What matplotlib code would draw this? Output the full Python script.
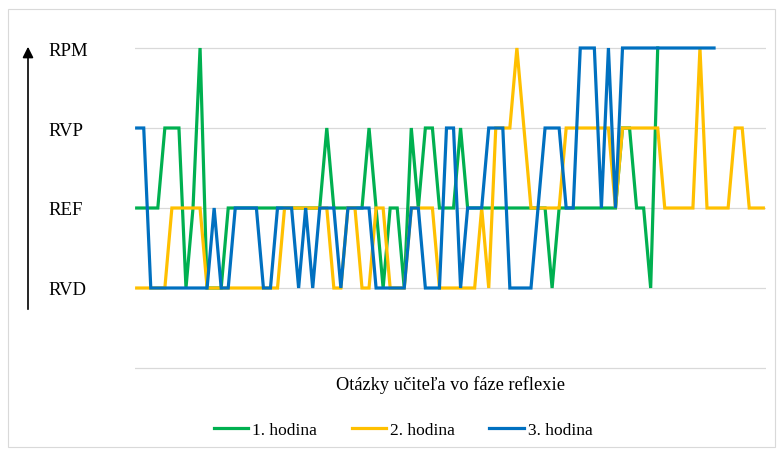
import numpy as np
import matplotlib.pyplot as plt
from matplotlib.patches import Rectangle

plt.rcParams['font.family'] = ['Liberation Serif', 'DejaVu Serif']

# reflection levels, bottom to top
levels = ['RVD', 'REF', 'RVP', 'RPM']
level_values = [1, 2, 3, 4]

# level of each teacher question (1 = RVD ... 4 = RPM)
hodina_1 = [2, 2, 2, 2, 3, 3, 3, 1, 2, 4,
            1, 1, 1, 2, 2, 2, 2, 2, 2, 2,
            2, 2, 2, 2, 2, 2, 2, 3, 2, 2,
            2, 2, 2, 3, 2, 1, 2, 2, 1, 3,
            2, 3, 3, 2, 2, 2, 3, 2, 2, 2,
            2, 2, 2, 2, 2, 2, 2, 2, 2, 1,
            2, 2, 2, 2, 2, 2, 2, 2, 2, 3,
            3, 2, 2, 1, 4]
hodina_2 = [1, 1, 1, 1, 1, 2, 2, 2, 2, 2,
            1, 1, 1, 1, 1, 1, 1, 1, 1, 1,
            1, 2, 2, 2, 2, 2, 2, 2, 1, 1,
            2, 2, 1, 1, 2, 2, 1, 1, 1, 2,
            2, 2, 2, 1, 1, 1, 1, 1, 1, 2,
            1, 3, 3, 3, 4, 3, 2, 2, 2, 2,
            2, 3, 3, 3, 3, 3, 3, 3, 2, 3,
            3, 3, 3, 3, 3, 2, 2, 2, 2, 2,
            4, 2, 2, 2, 2, 3, 3, 2, 2, 2]
hodina_3 = [3, 3, 1, 1, 1, 1, 1, 1, 1, 1,
            1, 2, 1, 1, 2, 2, 2, 2, 1, 1,
            2, 2, 2, 1, 2, 1, 2, 2, 2, 1,
            2, 2, 2, 2, 1, 1, 1, 1, 1, 2,
            2, 1, 1, 1, 3, 3, 1, 2, 2, 2,
            3, 3, 3, 1, 1, 1, 1, 2, 3, 3,
            3, 2, 2, 4, 4, 4, 2, 4, 2, 4,
            4, 4, 4, 4, 4, 4, 4, 4, 4, 4,
            4, 4, 4]

series = [('1. hodina', hodina_1, '#00b050'),
          ('2. hodina', hodina_2, '#ffc000'),
          ('3. hodina', hodina_3, '#0070c0')]

W, H = 783, 456
fig = plt.figure(figsize=(W / 100, H / 100), dpi=100)

# outer chart frame
fig.add_artist(Rectangle((8 / W, 8 / H), 767 / W, 438 / H, transform=fig.transFigure,
                         fill=False, edgecolor='#d9d9d9', lw=0.8))

ax = fig.add_axes([135 / W, (H - 373) / H, 631 / W, 344 / H])

for z, (name, vals, col) in enumerate(series):
    ax.plot(np.arange(len(vals)), vals, color=col, lw=2.3, label=name,
            zorder=3 + z, solid_joinstyle='miter')

ax.set_xlim(-0.24, 89.38)
ax.set_ylim(-0.05, 4.25)
ax.set_yticks([0] + level_values)
ax.set_yticklabels([''] + levels, fontsize=13.5)
for lab in ax.get_yticklabels():
    lab.set_horizontalalignment('left')
ax.tick_params(axis='y', length=0, pad=62.5)
ax.set_xticks([])
ax.grid(axis='y', color='#d9d9d9', lw=0.9)
ax.set_axisbelow(True)
for s in ax.spines.values():
    s.set_visible(False)

ax.set_xlabel('Otázky učiteľa vo fáze reflexie', fontsize=13.2, labelpad=2)

# upward arrow next to the level labels
ax.annotate('', xy=(28, H - 45), xytext=(28, H - 313), xycoords='figure pixels',
            textcoords='figure pixels',
            arrowprops=dict(arrowstyle='-|>', color='black', lw=1.2, mutation_scale=16))

fig.legend(loc='center', bbox_to_anchor=(403 / W, 1 - 431 / H), ncol=3, frameon=False,
           fontsize=12.5, handlelength=2.0, handletextpad=0.2, columnspacing=2.0)

fig.savefig('out.png', dpi=100)
